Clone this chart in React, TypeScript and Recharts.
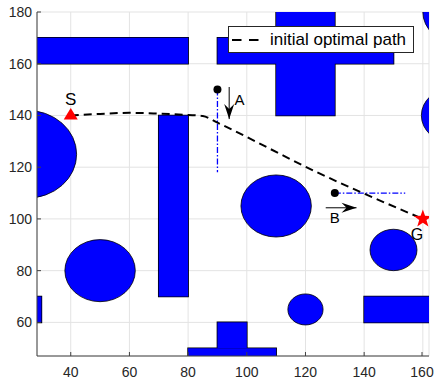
import React from 'react';
import {
  ComposedChart,
  XAxis,
  YAxis,
  CartesianGrid,
  ReferenceArea,
  Line,
  Scatter,
  Legend,
} from 'recharts';

const FONT = '"Liberation Sans", Arial, Helvetica, sans-serif';
const OBSTACLE_BLUE = '#0000ff';

const X_TICKS = [40, 60, 80, 100, 120, 140, 160];
const Y_TICKS = [60, 80, 100, 120, 140, 160, 180];

// rectangular obstacles, map units (some run past the axes and get clipped)
const RECT_OBSTACLES = [
  { x1: 20, x2: 80, y1: 160, y2: 170 },
  { x1: 90, x2: 150, y1: 160, y2: 170 },
  { x1: 110, x2: 130, y1: 140, y2: 190 },
  { x1: 70, x2: 80, y1: 70, y2: 140 },
  { x1: 20, x2: 30, y1: 60, y2: 70 },
  { x1: 140, x2: 170, y1: 60, y2: 70 },
  { x1: 80, x2: 110, y1: 40, y2: 50 },
  { x1: 90, x2: 100, y1: 50, y2: 60 },
];

// round obstacles: centre + radius
const CIRCLE_OBSTACLES = [
  { cx: 25, cy: 125, r: 17 },
  { cx: 50, cy: 80, r: 12 },
  { cx: 110, cy: 105, r: 12 },
  { cx: 150, cy: 88, r: 8 },
  { cx: 120, cy: 65, r: 6 },
  { cx: 170, cy: 140, r: 10.5 },
  { cx: 172, cy: 180, r: 12 },
];

const PATH = [
  { x: 40, y: 140 },
  { x: 50, y: 140.6 },
  { x: 60, y: 141 },
  { x: 70, y: 140.7 },
  { x: 80, y: 140.2 },
  { x: 85, y: 139.8 },
  { x: 90, y: 137.2 },
  { x: 124, y: 118 },
  { x: 160, y: 100 },
];

const START = [{ x: 40, y: 140 }];
const GOAL = [{ x: 160, y: 100 }];
const OBSTACLE_POINTS = [
  { x: 90, y: 150 },
  { x: 130, y: 110 },
];
const GUIDE_A = [
  { x: 90, y: 150 },
  { x: 90, y: 118 },
];
const GUIDE_B = [
  { x: 130, y: 110 },
  { x: 154, y: 110 },
];
const ARROW_A = [
  { x: 94, y: 151 },
  { x: 94, y: 138.6 },
];
const ARROW_B = [
  { x: 126.9, y: 104.3 },
  { x: 137.4, y: 104.3 },
];
const ARROW_HEADS = [
  { x: 94, y: 138.6, dir: 'down' },
  { x: 137.4, y: 104.3, dir: 'right' },
];
const LABELS = [
  { x: 40, y: 146, text: 'S' },
  { x: 158, y: 94, text: 'G' },
  { x: 97.5, y: 146, text: 'A' },
  { x: 130, y: 100.4, text: 'B' },
];
const LABEL_SIZE: Record<string, number> = { S: 17, G: 16, A: 15, B: 15 };

function starPath(cx: number, cy: number, outer: number, inner: number) {
  let d = '';
  for (let i = 0; i < 10; i++) {
    const rad = i % 2 === 0 ? outer : inner;
    const a = -Math.PI / 2 + (i * Math.PI) / 5;
    d += (i ? 'L' : 'M') + (cx + rad * Math.cos(a)).toFixed(2) + ',' + (cy + rad * Math.sin(a)).toFixed(2);
  }
  return d + 'Z';
}

const Ellipse = (p: any) => (
  <ellipse
    cx={p.x + p.width / 2}
    cy={p.y + p.height / 2}
    rx={p.width / 2}
    ry={p.height / 2}
    fill={OBSTACLE_BLUE}
    stroke="#000"
    strokeWidth={0.8}
    clipPath={p.clipPath}
  />
);

const Triangle = ({ cx, cy }: any) => (
  <path d={`M${cx},${cy - 7.5}L${cx + 7},${cy + 4}L${cx - 7},${cy + 4}Z`} fill="#ff0000" />
);

const Star = ({ cx, cy }: any) => <path d={starPath(cx, cy, 9.5, 3.8)} fill="#ff0000" />;

const Dot = ({ cx, cy }: any) => <circle cx={cx} cy={cy} r={4} fill="#000" />;

const ArrowHead = ({ cx, cy, payload }: any) => {
  const d =
    payload.dir === 'down'
      ? `M${cx},${cy}L${cx - 5},${cy - 15}L${cx},${cy - 10}L${cx + 5},${cy - 15}Z`
      : `M${cx},${cy}L${cx - 15},${cy - 5}L${cx - 10},${cy}L${cx - 15},${cy + 5}Z`;
  return <path d={d} fill="#000" />;
};

const TextMark = ({ cx, cy, payload }: any) => (
  <text
    x={cx}
    y={cy}
    textAnchor="middle"
    dominantBaseline="central"
    fontFamily={FONT}
    fontSize={LABEL_SIZE[payload.text]}
    fill="#000"
  >
    {payload.text}
  </text>
);

const YTick = ({ x, y, payload }: any) => (
  <g>
    <line x1={x + 5} x2={x + 9} y1={y} y2={y} stroke="#404040" />
    <text x={x} y={y} textAnchor="end" dominantBaseline="central" fontFamily={FONT} fontSize={14} fill="#262626">
      {payload.value}
    </text>
  </g>
);

const XTick = ({ x, y, payload }: any) => (
  <g>
    <line x1={x} x2={x} y1={y - 11} y2={y - 15} stroke="#404040" />
    <text x={x} y={y} dy="0.71em" textAnchor="middle" fontFamily={FONT} fontSize={14} fill="#262626">
      {payload.value}
    </text>
  </g>
);

const renderLegend = ({ payload }: any) => (
  <div
    style={{
      boxSizing: 'border-box',
      width: 186,
      height: 27,
      background: '#fff',
      border: '1px solid #262626',
      display: 'flex',
      alignItems: 'center',
      fontFamily: FONT,
      fontSize: 17,
      color: '#000',
    }}
  >
    {(payload || [])
      .filter((p: any) => p.type !== 'none')
      .map((p: any) => (
        <div key={p.value} style={{ display: 'flex', alignItems: 'center' }}>
          <svg width={32} height={10}>
            <line x1={3} x2={30} y1={5} y2={5} stroke="#000" strokeWidth={2} strokeDasharray="9.5 7.5" />
          </svg>
          <span style={{ marginLeft: 9, whiteSpace: 'nowrap' }}>{p.value}</span>
        </div>
      ))}
  </div>
);

export default function App() {
  return (
    <div style={{ position: 'absolute', left: 0, top: 0, background: '#fff' }}>
      <ComposedChart width={434} height={383} margin={{ top: 12, right: 5, bottom: 0, left: 7 }}>
        <CartesianGrid stroke="#e3e3e3" strokeWidth={1} />
        <XAxis
          type="number"
          dataKey="x"
          domain={[28.5, 162.1]}
          ticks={X_TICKS}
          allowDataOverflow
          height={27}
          tickSize={0}
          tickMargin={11}
          tick={<XTick />}
          axisLine={{ stroke: '#404040' }}
          tickLine={false}
        />
        <YAxis
          type="number"
          dataKey="y"
          domain={[47, 180]}
          ticks={Y_TICKS}
          allowDataOverflow
          width={30}
          tickSize={0}
          tickMargin={5}
          tick={<YTick />}
          axisLine={{ stroke: '#404040' }}
          tickLine={false}
        />

        {/* outline pass, then fill pass so overlapping bars read as one shape */}
        {RECT_OBSTACLES.map((r, i) => (
          <ReferenceArea
            key={'ro' + i}
            {...r}
            ifOverflow="hidden"
            fill={OBSTACLE_BLUE}
            fillOpacity={1}
            stroke="#000"
            strokeWidth={1.6}
          />
        ))}
        {RECT_OBSTACLES.map((r, i) => (
          <ReferenceArea
            key={'rf' + i}
            {...r}
            ifOverflow="hidden"
            fill={OBSTACLE_BLUE}
            fillOpacity={1}
            stroke="none"
          />
        ))}
        {CIRCLE_OBSTACLES.map((c, i) => (
          <ReferenceArea
            key={'c' + i}
            x1={c.cx - c.r}
            x2={c.cx + c.r}
            y1={c.cy - c.r}
            y2={c.cy + c.r}
            ifOverflow="hidden"
            shape={Ellipse}
          />
        ))}

        <Line
          data={GUIDE_A}
          dataKey="y"
          type="linear"
          stroke="#0000ff"
          strokeWidth={1.3}
          strokeDasharray="6 2 1.5 2"
          dot={false}
          legendType="none"
          isAnimationActive={false}
        />
        <Line
          data={GUIDE_B}
          dataKey="y"
          type="linear"
          stroke="#0000ff"
          strokeWidth={1.3}
          strokeDasharray="6 2 1.5 2"
          dot={false}
          legendType="none"
          isAnimationActive={false}
        />
        <Line
          data={PATH}
          dataKey="y"
          name="initial optimal path"
          type="monotone"
          stroke="#000"
          strokeWidth={2}
          strokeDasharray="8 5"
          dot={false}
          isAnimationActive={false}
        />
        <Line
          data={ARROW_A}
          dataKey="y"
          type="linear"
          stroke="#000"
          strokeWidth={1}
          dot={false}
          legendType="none"
          isAnimationActive={false}
        />
        <Line
          data={ARROW_B}
          dataKey="y"
          type="linear"
          stroke="#000"
          strokeWidth={1}
          dot={false}
          legendType="none"
          isAnimationActive={false}
        />

        <Scatter data={ARROW_HEADS} shape={ArrowHead} legendType="none" isAnimationActive={false} />
        <Scatter data={OBSTACLE_POINTS} shape={Dot} legendType="none" isAnimationActive={false} />
        <Scatter data={START} shape={Triangle} legendType="none" isAnimationActive={false} />
        <Scatter data={GOAL} shape={Star} legendType="none" isAnimationActive={false} />
        <Scatter data={LABELS} shape={TextMark} legendType="none" isAnimationActive={false} />

        <Legend
          layout="vertical"
          align="center"
          verticalAlign="middle"
          content={renderLegend}
          wrapperStyle={{ left: 228, top: 26, width: 186, height: 27, margin: 0 }}
        />
      </ComposedChart>
    </div>
  );
}
